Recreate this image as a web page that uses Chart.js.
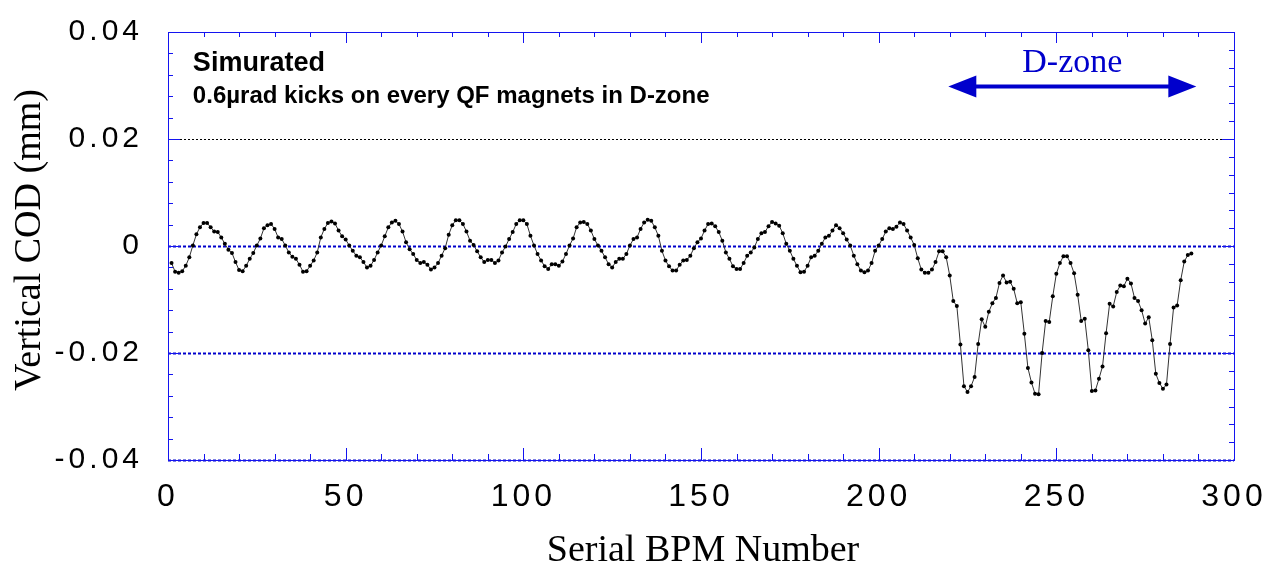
<!DOCTYPE html>
<html>
<head>
<meta charset="utf-8">
<script src="https://cdn.jsdelivr.net/npm/chart.js@4"></script>
<style>
	body { margin: 0; background: #fff; }
	#wrap { width: 1272px; height: 566px; position: relative; }
</style>
</head>
<body>
<div id="wrap"><canvas id="cod-chart"></canvas></div>
<script>
// tick labels
const xTicks = [0, 50, 100, 150, 200, 250, 300]
const yTicks = [-0.04, -0.02, 0, 0.02, 0.04]

// vertical COD (mm), BPM 1..288
const codValues = [
	-0.0032, -0.0048, -0.0050, -0.0047, -0.0037, -0.0021, 0.0001, 0.0022, 0.0035, 0.0043, 0.0043, 0.0035, 0.0027, 0.0026, 0.0016, 0.0004, -0.0007, -0.0013,
	-0.0030, -0.0045, -0.0047, -0.0037, -0.0024, -0.0013, 0.0001, 0.0014, 0.0033, 0.0039, 0.0041, 0.0032, 0.0016, 0.0013, 0.0001, -0.0012, -0.0020, -0.0024,
	-0.0035, -0.0048, -0.0047, -0.0037, -0.0027, -0.0012, 0.0016, 0.0032, 0.0043, 0.0046, 0.0042, 0.0029, 0.0018, 0.0012, 0.0001, -0.0009, -0.0018, -0.0021,
	-0.0030, -0.0040, -0.0037, -0.0026, -0.0012, 0.0001, 0.0018, 0.0035, 0.0044, 0.0047, 0.0041, 0.0027, 0.0007, -0.0006, -0.0015, -0.0026, -0.0032, -0.0030,
	-0.0035, -0.0044, -0.0040, -0.0032, -0.0018, -0.0004, 0.0021, 0.0039, 0.0048, 0.0048, 0.0041, 0.0027, 0.0010, 0.0002, -0.0010, -0.0021, -0.0030, -0.0026,
	-0.0026, -0.0032, -0.0027, -0.0012, -0.0001, 0.0013, 0.0026, 0.0041, 0.0048, 0.0048, 0.0041, 0.0019, 0.0001, -0.0015, -0.0027, -0.0038, -0.0043, -0.0034,
	-0.0034, -0.0037, -0.0029, -0.0015, 0.0001, 0.0014, 0.0035, 0.0044, 0.0045, 0.0041, 0.0029, 0.0013, 0.0001, -0.0009, -0.0021, -0.0034, -0.0040, -0.0030,
	-0.0024, -0.0024, -0.0015, 0.0001, 0.0013, 0.0016, 0.0032, 0.0044, 0.0049, 0.0047, 0.0035, 0.0019, -0.0009, -0.0027, -0.0038, -0.0046, -0.0046, -0.0035,
	-0.0027, -0.0026, -0.0018, -0.0004, 0.0007, 0.0014, 0.0029, 0.0041, 0.0042, 0.0037, 0.0026, 0.0010, -0.0012, -0.0024, -0.0038, -0.0043, -0.0043, -0.0032,
	-0.0018, -0.0012, -0.0003, 0.0013, 0.0024, 0.0026, 0.0037, 0.0045, 0.0042, 0.0038, 0.0024, 0.0004, -0.0009, -0.0024, -0.0037, -0.0049, -0.0048, -0.0037,
	-0.0021, -0.0018, -0.0009, 0.0004, 0.0016, 0.0019, 0.0029, 0.0039, 0.0033, 0.0024, 0.0012, 0.0001, -0.0018, -0.0034, -0.0046, -0.0049, -0.0046, -0.0032,
	-0.0009, 0.0001, 0.0013, 0.0027, 0.0033, 0.0032, 0.0036, 0.0044, 0.0041, 0.0029, 0.0016, 0.0002, -0.0023, -0.0044, -0.0050, -0.0050, -0.0044, -0.0030,
	-0.0010, -0.0010, -0.0021, -0.0055, -0.0103, -0.0112, -0.0184, -0.0262, -0.0273, -0.0262, -0.0245, -0.0183, -0.0137, -0.0151, -0.0123, -0.0107, -0.0097, -0.0069,
	-0.0055, -0.0068, -0.0067, -0.0080, -0.0107, -0.0105, -0.0164, -0.0228, -0.0255, -0.0276, -0.0277, -0.0200, -0.0140, -0.0142, -0.0094, -0.0052, -0.0032, -0.0019,
	-0.0019, -0.0032, -0.0051, -0.0091, -0.0140, -0.0136, -0.0195, -0.0271, -0.0270, -0.0248, -0.0225, -0.0163, -0.0108, -0.0113, -0.0086, -0.0074, -0.0075, -0.0061,
	-0.0070, -0.0097, -0.0103, -0.0120, -0.0145, -0.0133, -0.0176, -0.0239, -0.0256, -0.0267, -0.0259, -0.0183, -0.0115, -0.0111, -0.0064, -0.0029, -0.0017, -0.0014
]

const xTitle = 'Serial BPM Number'
const yTitle = 'Vertical COD (mm)'
const noteLines = ['Simurated', '0.6µrad kicks on every QF magnets in D-zone']
const zoneLabel = 'D-zone'
const zoneFrom = 219.6
const zoneTo = 289.4

const blue = '#0000cc'
const frameBlue = '#1414f0'
const sans = '"Liberation Sans", Arial, sans-serif'
const serif = '"Liberation Serif", "Times New Roman", serif'

const fmt = v => String(parseFloat(v.toFixed(3)))

const frame = {
	id: 'frame',
	beforeDraw(chart) {
		chart.ctx.letterSpacing = '4px'
	},
	beforeDatasetsDraw(chart) {
		const { ctx, chartArea: a, scales: { x, y } } = chart
		ctx.save()
		ctx.letterSpacing = '0px'

		// horizontal grid lines
		yTicks.forEach(v => {
			if (v >= 0.04) return
			const py = Math.round(y.getPixelForValue(v)) + 0.5
			ctx.beginPath()
			if (v > 0) {
				ctx.strokeStyle = '#000'
				ctx.lineWidth = 1
				ctx.setLineDash([2, 2])
			} else {
				ctx.strokeStyle = blue
				ctx.lineWidth = 2
				ctx.setLineDash([3, 2])
			}
			ctx.moveTo(a.left, py)
			ctx.lineTo(a.right, py)
			ctx.stroke()
		})
		ctx.setLineDash([])

		// box
		ctx.strokeStyle = frameBlue
		ctx.lineWidth = 1
		ctx.strokeRect(Math.round(a.left) + 0.5, Math.round(a.top) + 0.5, Math.round(a.right - a.left), Math.round(a.bottom - a.top))

		// ticks, pointing inwards
		ctx.beginPath()
		for (let v = 0; v <= 300; v += 10) {
			const px = Math.round(x.getPixelForValue(v)) + 0.5
			const len = v % 50 === 0 ? 12 : 6
			ctx.moveTo(px, a.bottom); ctx.lineTo(px, a.bottom - len)
			ctx.moveTo(px, a.top); ctx.lineTo(px, a.top + (v % 50 === 0 ? 11 : 5))
		}
		for (let i = 0; i <= 20; i++) {
			const v = -0.04 + i * 0.004
			const py = Math.round(y.getPixelForValue(v)) + 0.5
			const len = i % 5 === 0 ? 12 : 5
			ctx.moveTo(a.left, py); ctx.lineTo(a.left + len, py)
		}
		for (let i = 0; i <= 24; i++) {
			const v = -0.04 + i * 0.02 / 6
			const py = Math.round(y.getPixelForValue(v)) + 0.5
			const len = i % 6 === 0 ? 12 : 5
			ctx.moveTo(a.right, py); ctx.lineTo(a.right - len, py)
		}
		ctx.stroke()
		ctx.restore()
	},
	afterDraw(chart) {
		const { ctx, chartArea: a, scales: { x, y } } = chart
		ctx.save()
		ctx.letterSpacing = '0px'
		ctx.fillStyle = '#000'

		// axis titles
		ctx.font = '38px ' + serif
		ctx.textAlign = 'center'
		ctx.textBaseline = 'alphabetic'
		ctx.fillText(xTitle, (a.left + a.right) / 2 + 2, 561)
		ctx.save()
		ctx.translate(30, (a.top + a.bottom) / 2 - 6)
		ctx.rotate(-Math.PI / 2)
		ctx.textBaseline = 'middle'
		ctx.fillText(yTitle, 0, 0)
		ctx.restore()

		// note
		ctx.textAlign = 'left'
		ctx.font = 'bold 27px ' + sans
		ctx.fillText(noteLines[0], x.getPixelForValue(7), y.getPixelForValue(0.0328))
		ctx.font = 'bold 24px ' + sans
		ctx.fillText(noteLines[1], x.getPixelForValue(7), y.getPixelForValue(0.0268))

		// D-zone arrow
		const x1 = x.getPixelForValue(zoneFrom)
		const x2 = x.getPixelForValue(zoneTo)
		const ay = y.getPixelForValue(0.0298)
		const head = 28, half = 11
		ctx.fillStyle = blue
		ctx.strokeStyle = blue
		ctx.lineWidth = 4
		ctx.beginPath()
		ctx.moveTo(x1 + head - 2, ay)
		ctx.lineTo(x2 - head + 2, ay)
		ctx.stroke()
		ctx.beginPath()
		ctx.moveTo(x1, ay); ctx.lineTo(x1 + head, ay - half); ctx.lineTo(x1 + head, ay + half); ctx.closePath()
		ctx.moveTo(x2, ay); ctx.lineTo(x2 - head, ay - half); ctx.lineTo(x2 - head, ay + half); ctx.closePath()
		ctx.fill()

		ctx.font = '34px ' + serif
		ctx.textAlign = 'center'
		ctx.fillText(zoneLabel, x.getPixelForValue(254.5), y.getPixelForValue(0.0326))
		ctx.restore()
	}
}

new Chart(document.getElementById('cod-chart'), {
	type: 'line',
	data: {
		datasets: [{
			data: codValues.map((v, i) => ({ x: i + 1, y: v })),
			borderColor: '#333',
			borderWidth: 1,
			pointRadius: 2,
			pointBackgroundColor: '#000',
			pointBorderWidth: 0,
			tension: 0
		}]
	},
	options: {
		responsive: true,
		maintainAspectRatio: false,
		animation: false,
		devicePixelRatio: 1,
		layout: { padding: { top: 32, right: 38, left: 0, bottom: 0 } },
		plugins: {
			legend: { display: false },
			tooltip: { enabled: false }
		},
		scales: {
			x: {
				type: 'linear',
				min: 0,
				max: 300,
				grid: { display: false, drawTicks: false },
				border: { display: false },
				afterBuildTicks: s => { s.ticks = xTicks.map(v => ({ value: v })) },
				afterFit: s => {
					s.height = 106
					s.paddingLeft = 0
					s.paddingRight = 0
				},
				ticks: { padding: 18, color: '#000', font: { family: sans, size: 32 }, maxRotation: 0, autoSkip: false, callback: v => fmt(v) }
			},
			y: {
				min: -0.04,
				max: 0.04,
				grid: { display: false, drawTicks: false },
				border: { display: false },
				afterBuildTicks: s => { s.ticks = yTicks.map(v => ({ value: v })) },
				afterFit: s => {
					s.width = 168
					s.paddingTop = 0
					s.paddingBottom = 0
				},
				ticks: { padding: 25, color: '#000', font: { family: sans, size: 30 }, autoSkip: false, callback: v => fmt(v) }
			}
		}
	},
	plugins: [frame]
})
</script>
</body>
</html>
